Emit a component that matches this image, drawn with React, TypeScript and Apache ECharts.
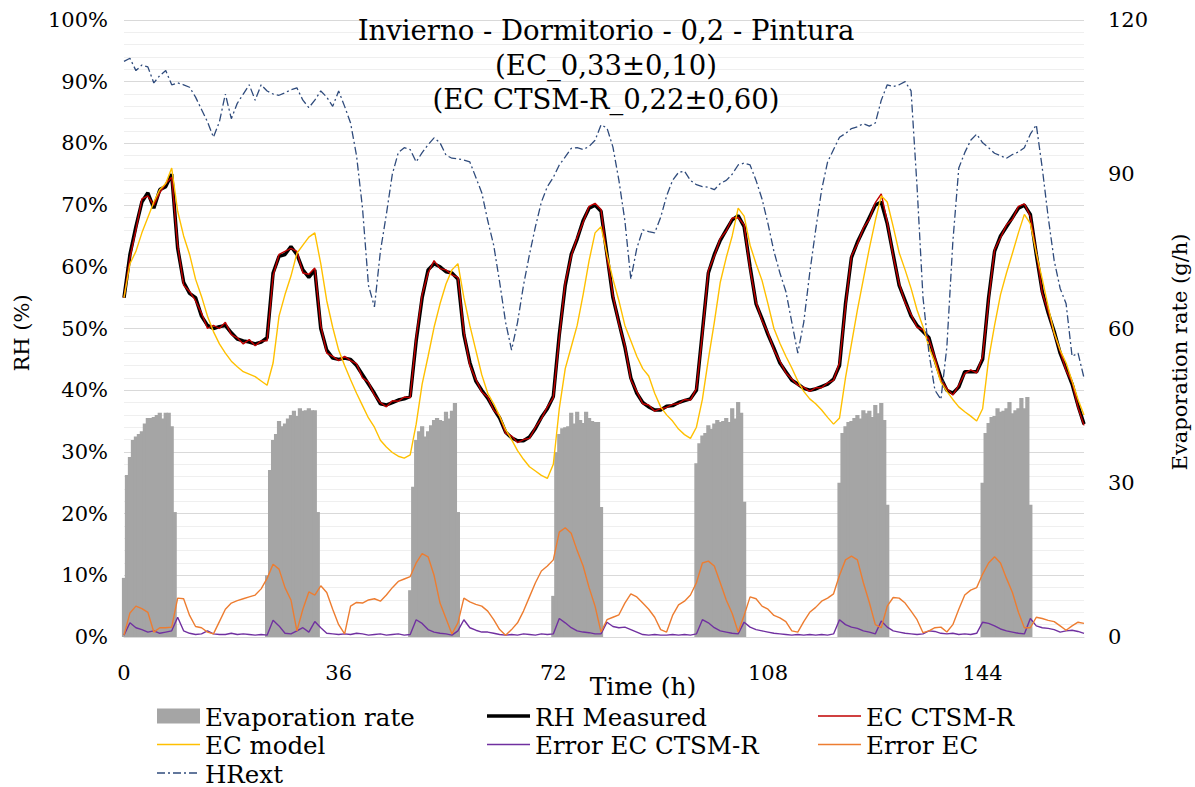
import React, { useEffect, useRef } from 'react';
import * as echarts from 'echarts';

// Hourly series, t = 0 .. 161 h
const rhMeasured = [
  55, 62, 66.5, 70.5, 72, 69.5, 72.5, 73, 75, 63,
  57.5, 55.7, 55, 52, 50.5, 50, 50.3, 50.5, 49.3, 48.3,
  48, 47.8, 47.5, 47.8, 48.5, 59, 61.7, 62, 63.3, 62,
  59.5, 58.3, 59.5, 50, 46.5, 45.2, 45, 45.2, 45, 44,
  42.5, 41, 39.5, 37.8, 37.6, 38, 38.4, 38.6, 39, 48,
  55, 59.5, 60.5, 60, 59.2, 59, 58, 49, 44.5, 41.5,
  40, 38.7, 37, 35.5, 33.2, 32.3, 31.8, 31.8, 32.4, 33.8,
  35.6, 37, 39, 49, 57, 62, 64.5, 67.5, 69.5, 70,
  69, 62, 55, 51, 47, 42, 39.5, 38, 37.3, 36.8,
  36.8, 37.4, 37.5, 38, 38.3, 38.6, 40, 49.5, 59, 62,
  64.3, 66, 67.6, 68.3, 66.5, 60, 54, 51.6, 49, 46.8,
  44.4, 43, 41.6, 41, 40.3, 40, 40.2, 40.6, 41, 41.8,
  44, 54, 61.5, 64, 66, 68, 70, 70.5, 67, 62,
  57, 54.5, 52, 50.5, 49.5, 48.5, 45, 42, 40, 39.5,
  40.5, 43, 43, 43, 45, 55, 62.5, 65, 66.5, 68,
  69.5, 70, 68.5, 62, 56, 52.5, 49.5, 46, 43.5, 41,
  37.5, 34.5,
];

const ecCtsmR = [
  55, 61.5, 66, 71, 71.5, 70, 72, 73.5, 74.5, 63.5,
  57, 56, 54.5, 52.5, 50, 50.5, 50, 51, 49, 48.5,
  47.5, 48.2, 47.2, 48, 48, 58.5, 62, 62.5, 63, 62.5,
  59, 58.8, 59.8, 50.5, 46, 45.5, 44.8, 45.5, 44.8, 44.3,
  42, 41.3, 39.2, 38, 37.3, 38.3, 38.2, 38.9, 38.8, 48.5,
  55.5, 59, 61, 59.7, 59.5, 58.7, 58.3, 49.5, 44, 41.8,
  39.7, 38.9, 36.8, 35.8, 33, 32.6, 31.5, 32, 32.2, 34,
  35.4, 37.3, 38.8, 48.5, 57.5, 61.7, 64.8, 67.2, 69.8, 70.3,
  69.3, 61.5, 55.4, 50.7, 47.3, 41.7, 39.8, 37.8, 37.6, 36.6,
  37, 37.2, 37.7, 37.8, 38.5, 38.4, 40.3, 49, 59.4, 61.7,
  64.6, 65.8, 67.9, 68, 66.8, 59.6, 54.3, 51.3, 49.3, 46.5,
  44.7, 42.8, 41.8, 40.8, 40.5, 39.8, 40.4, 40.4, 41.2, 41.6,
  44.5, 53.5, 61.8, 63.7, 66.3, 67.7, 70.4, 71.8, 67.3, 61.7,
  57.3, 54.2, 52.3, 50.2, 49.8, 48.2, 45.3, 41.7, 40.3, 39.2,
  40.8, 42.7, 43.3, 42.8, 45.5, 54.5, 62.8, 64.7, 66.8, 67.7,
  69.8, 70.2, 68.2, 62.4, 55.7, 52.8, 49.2, 46.3, 43.2, 41.3,
  37.2, 34.3,
];

const ecModel = [
  55, 60.5, 62.5, 65.5, 68, 70.5, 72.5, 73.5, 76, 69,
  65, 62, 58, 55.2, 52, 49.5, 47.5, 46, 44.7, 43.8,
  43, 42.6, 42.2, 41.5, 40.8, 44.4, 52, 55.5, 58.5, 62.2,
  63.5, 64.8, 65.5, 60.5, 54.5, 50.2, 46.5, 44, 41.7, 39.5,
  37.5, 35.5, 34, 31.9, 30.8, 29.9, 29.3, 29, 29.5, 34.5,
  41, 45.5, 50.2, 54, 57.2, 59.5, 60.5, 55, 50.5, 46.5,
  42.5, 39.5, 37.8, 35.8, 33.6, 32, 30.2, 28.8, 27.6, 26.9,
  26.2, 25.7, 28, 37, 43.5, 47, 50.5, 55.5, 61, 65.5,
  66.5, 62, 58, 54.5, 50.5, 48, 45.5, 43.5, 42.3, 39.5,
  37.3, 36, 35, 33.7, 32.8, 32.2, 34, 38.5, 45, 51,
  57.5, 61.5, 65, 69.5, 68.2, 63.5, 60.5, 57.8, 54, 50,
  47.6, 45.5, 43.6, 41.5, 39.8, 38.6, 37.8, 36.8, 35.6, 34.5,
  35.5, 42, 47.5, 53, 58, 63, 67.5, 71.5, 70.5, 66.5,
  62.3, 59.5, 56.5, 53, 50.3, 47, 44.5, 41.3, 39.8, 38.5,
  37.3, 36.5, 35.8, 35, 37, 45, 50.5, 55.5, 59, 62.2,
  65.5, 68.5, 67, 62.2, 58, 53.5, 49.3, 46.5, 44.4, 41.5,
  38.5, 36,
];

const errorEcCtsmR = [
  0.3, 2.3, 1.5, 1.2, 0.8, 1, 0.6, 0.8, 1, 3.2,
  1, 0.6, 0.4, 0.5, 1, 0.5, 0.4, 0.4, 0.6, 0.4,
  0.5, 0.4, 0.3, 0.4, 0.3, 2.7, 1.8, 0.6, 0.5, 1,
  1.5, 0.8, 2.5, 1.5, 0.6, 0.5, 0.4, 0.5, 0.4, 0.6,
  0.5, 0.3, 0.4, 0.5, 0.3, 0.4, 0.5, 0.3, 0.4, 2.8,
  2.2, 1.2, 0.8, 0.6, 0.5, 0.3, 1, 2.8, 1.5, 1.1,
  0.8, 0.8, 0.6, 0.4, 0.3, 0.4, 0.3, 0.5, 0.4, 0.3,
  0.5, 0.4, 0.5, 3, 2.3, 1.5, 1, 0.8, 0.7, 0.5,
  0.5, 2.4, 1.7, 1.5, 1.6, 1.2, 0.8, 0.4, 0.3, 0.4,
  0.3, 0.3, 0.4, 0.3, 0.4, 0.3, 0.5, 2.8, 2.3, 1.5,
  1, 0.8, 0.6, 0.5, 2.4, 1.6, 1.2, 1, 0.8, 0.6,
  0.5, 0.4, 0.3, 0.4, 0.3, 0.4, 0.3, 0.4, 0.3, 0.5,
  2.8, 2, 1.6, 1.4, 1, 0.8, 0.5, 2.6, 1.6, 1,
  0.8, 0.6, 0.5, 0.4, 0.5, 1, 0.9, 0.6, 0.5, 0.6,
  0.4, 0.5, 0.4, 0.6, 2.4, 2.2, 1.8, 1.3, 1, 0.8,
  0.6, 0.5, 3, 1.8, 1.5, 1.4, 1.2, 0.8, 1, 1.1,
  0.9, 0.6,
];

const errorEc = [
  0.3, 3.9, 5, 4.6, 4, 0.8, 1.5, 1.5, 1.6, 6.3,
  6.2, 3.5, 1.7, 1.5, 0.8, 0.5, 2.5, 4.5, 5.5, 5.9,
  6.2, 6.5, 6.8, 7.8, 9.5, 11.8, 11, 8, 6, 1,
  4.5, 7.3, 6.8, 8.3, 7.2, 4.5, 2, 0.5, 5, 5.6,
  5.5, 6, 6.2, 5.8, 6.8, 8, 9, 9.4, 9.8, 12,
  13.5, 13, 10, 5.5, 3, 0.5, 2.3, 6.3, 5.7, 5.3,
  5, 4.2, 2.8, 1.2, 0.3, 1.2, 2.3, 4.2, 6.5, 8.8,
  10.7, 11.5, 12.5, 17, 17.7, 16.8, 14, 11.5, 8, 5,
  0.8, 2.8, 3.2, 3.6, 5.5, 7, 6.5, 5.5, 4.5, 3.2,
  1.2, 0.8, 3.5, 5.2, 5.8, 6.8, 8.8, 12, 12.3, 11.5,
  8.8, 6, 3.8, 0.8, 3.5, 6.5, 6.2, 5, 4.5, 3.5,
  3.1, 2.5, 1, 0.8, 2.5, 4, 4.8, 5.8, 6.3, 7,
  10, 12.5, 13.1, 12.5, 8.8, 5.6, 2, 1.5, 5, 6.4,
  6.3, 5.5, 4.2, 2.8, 0.7, 1, 1.5, 1.6, 0.8, 2,
  4.5, 6.8, 7.6, 8, 10.2, 12, 13, 12, 9.5, 7.2,
  4, 1.5, 1.5, 3.2, 3, 2.7, 2.5, 1.8, 1.1, 1.8,
  2.4, 2.2,
];

const hrExt = [
  93.3, 93.8, 91.8, 92.7, 92.4, 89.8, 91, 91.8, 89.5, 89.8,
  89.5, 89.1, 87.5, 85.5, 83.5, 81, 83.5, 88, 84, 86.5,
  88, 89.5, 87, 89.5, 88.5, 88, 87.8, 88.2, 88.7, 89,
  87, 85.8, 87, 88.5, 87.5, 86, 88.5, 86, 83.3, 78,
  69.5, 57, 53.5, 62.5, 68.5, 75, 78.5, 79.3, 79, 77,
  78.5, 79.8, 80.9, 80.1, 78.1, 77.6, 77.5, 77.3, 77, 74.5,
  72, 67.5, 63.5, 57.5, 51, 46.5, 51, 57, 62, 66.5,
  70.5, 73, 74.5, 76.5, 77.8, 79.2, 79.3, 79, 79.5, 80.5,
  83, 82.5, 79.4, 74, 67.5, 58, 63, 66, 65.7, 65.5,
  68, 71.5, 74, 75.3, 75.5, 74, 73.3, 73, 72.9, 72.5,
  73.5, 74, 75, 76.5, 76.8, 76.5, 74, 71, 67, 62.5,
  59, 56, 51, 46, 51, 59, 66, 72.5, 77, 79,
  81, 81.6, 82.4, 82.7, 83.2, 82.8, 83.3, 87, 89.5, 89.2,
  89.5, 90, 88.5, 73, 55, 46, 40, 38.5, 47, 64,
  76, 78.5, 80.5, 81.5, 80.1, 79.3, 78.4, 78, 77.6, 78.2,
  78.6, 79.3, 81.5, 83, 76, 68, 61, 56.5, 54, 45.5,
  46, 42,
];

// Evaporation rate (g/h), half-hourly during each daily emission period
const evapStartHours = [0, 24, 48, 72, 96, 120, 144];
const evapDay1 = [11.5, 31.5, 35, 38.3, 39, 39.5, 40, 41.5, 42.6, 42.6, 42.8, 43.2, 43.6, 42.5, 43.6, 43.6, 41, 24.3];
const evapDay2 = [12, 32.5, 38.3, 39.5, 42, 41, 41.5, 42.5, 43.2, 44, 43, 44.5, 44, 44.1, 44.5, 44.1, 44.1, 24.3];
const evapDay3 = [9.1, 29.2, 38.3, 40, 41, 39, 40, 41.2, 42.2, 42.6, 42.2, 42, 43.8, 42.5, 44, 45.5, 24.3];
const evapDay4 = [8, 36, 39.5, 40.6, 40.8, 41, 43.6, 41.5, 43.8, 42.2, 41.6, 43.8, 42.6, 42, 41.8, 41.8, 25.3];
const evapDay5 = [33.8, 37.7, 39.2, 39.7, 41.2, 40.5, 41.5, 42.2, 41.8, 42, 42.6, 41.8, 44.5, 42.5, 45.7, 43.6, 26.3];
const evapDay6 = [30, 39.7, 41, 41.8, 42, 42.6, 43.2, 42.5, 44.1, 43.5, 44, 42.8, 45.1, 43.5, 45.5, 42.2, 25.7];
const evapDay7 = [30, 39.7, 41.6, 42.8, 43, 44.5, 43.8, 44, 44.5, 45.7, 43.5, 44.1, 44.5, 46.5, 44.5, 46.7, 25.7];
const evapDays = [evapDay1, evapDay2, evapDay3, evapDay4, evapDay5, evapDay6, evapDay7];
const evapStep = 0.5;

const xTicks = [0, 36, 72, 108, 144];
const titleLines = [
  'Invierno - Dormitorio - 0,2 - Pintura',
  '(EC_0,33±0,10)',
  '(EC CTSM-R_0,22±0,60)',
];

const FONT = 'DejaVu Serif';

const COLORS = {
  evap: '#a5a5a5',
  rh: '#000000',
  ctsm: '#c00000',
  model: '#ffc000',
  errCtsm: '#7030a0',
  errEc: '#ed7d31',
  hrExt: '#2f4b7c',
};
const HR_DASH = [8, 3, 2, 3];

const toPairs = (arr: number[]) => arr.map((v, i) => [i, v]);

// legend layout: [name, kind, color, line width, icon x, row y, dash]
const legendItems: Array<[string, string, string, number, number, number, number[] | null]> = [
  ['Evaporation rate', 'rect', COLORS.evap, 0, 157, 716, null],
  ['RH Measured', 'line', COLORS.rh, 3.5, 487, 716, null],
  ['EC CTSM-R', 'line', COLORS.ctsm, 1.4, 818, 716, null],
  ['EC model', 'line', COLORS.model, 1.4, 157, 744.5, null],
  ['Error EC CTSM-R', 'line', COLORS.errCtsm, 1.4, 487, 744.5, null],
  ['Error EC', 'line', COLORS.errEc, 1.4, 818, 744.5, null],
  ['HRext', 'line', COLORS.hrExt, 1.3, 157, 773, HR_DASH],
];

export default function App() {
  const ref = useRef<HTMLDivElement>(null);

  useEffect(() => {
    if (!ref.current) return;
    const chart = echarts.init(ref.current, undefined, { renderer: 'svg' });

    const evapData: number[][] = [];
    evapDays.forEach((day, d) => {
      day.forEach((v, i) => evapData.push([evapStartHours[d] + i * evapStep, v]));
    });

    const lineBase = { type: 'line', showSymbol: false, symbol: 'none', animation: false };

    const legendGraphics: any[] = [];
    legendItems.forEach(([name, kind, color, width, x, y, dash]) => {
      if (kind === 'rect') {
        legendGraphics.push({ type: 'rect', shape: { x, y: y - 7.5, width: 43, height: 15 }, style: { fill: color } });
      } else {
        legendGraphics.push({
          type: 'line',
          shape: { x1: x, y1: y, x2: x + 43, y2: y },
          style: { stroke: color, lineWidth: width, lineDash: dash || undefined },
        });
      }
      legendGraphics.push({
        type: 'text',
        x: x + 48,
        y: y + 1,
        style: { text: name, fontFamily: FONT, fontSize: 24.5, fill: '#000', textAlign: 'left', textVerticalAlign: 'middle' },
      });
    });

    chart.setOption({
      animation: false,
      grid: { left: 124, right: 111, top: 20, bottom: 150, containLabel: false },
      xAxis: {
        type: 'value',
        min: 0,
        max: 161,
        interval: 36,
        axisLine: { show: true, lineStyle: { color: '#d9d9d9' } },
        axisTick: { show: false },
        splitLine: { show: false },
        axisLabel: {
          margin: 25,
          fontFamily: FONT,
          fontSize: 21,
          color: '#000',
          showMaxLabel: false,
          formatter: (v: number) => (xTicks.includes(v) ? String(v) : ''),
        },
      },
      yAxis: [
        {
          type: 'value',
          min: 0,
          max: 100,
          interval: 10,
          axisLine: { show: false },
          axisTick: { show: false },
          splitLine: { show: true, lineStyle: { color: '#d9d9d9' } },
          minorTick: { show: false, splitNumber: 5 },
          minorSplitLine: { show: true, lineStyle: { color: '#efefef' } },
          axisLabel: { formatter: '{value}%', margin: 16, fontFamily: FONT, fontSize: 21, color: '#000' },
        },
        {
          type: 'value',
          min: 0,
          max: 120,
          interval: 30,
          position: 'right',
          axisLine: { show: false },
          axisTick: { show: false },
          splitLine: { show: false },
          axisLabel: { margin: 24, fontFamily: FONT, fontSize: 21, color: '#000' },
        },
      ],
      series: [
        {
          name: 'Evaporation rate',
          type: 'bar',
          yAxisIndex: 1,
          barWidth: 4.2,
          itemStyle: { color: COLORS.evap },
          data: evapData,
        },
        { ...lineBase, name: 'RH Measured', data: toPairs(rhMeasured), lineStyle: { color: COLORS.rh, width: 3.5 }, itemStyle: { color: COLORS.rh } },
        { ...lineBase, name: 'EC CTSM-R', data: toPairs(ecCtsmR), lineStyle: { color: COLORS.ctsm, width: 1.4 }, itemStyle: { color: COLORS.ctsm } },
        { ...lineBase, name: 'EC model', data: toPairs(ecModel), lineStyle: { color: COLORS.model, width: 1.4 }, itemStyle: { color: COLORS.model } },
        { ...lineBase, name: 'Error EC CTSM-R', data: toPairs(errorEcCtsmR), lineStyle: { color: COLORS.errCtsm, width: 1.4 }, itemStyle: { color: COLORS.errCtsm } },
        { ...lineBase, name: 'Error EC', data: toPairs(errorEc), lineStyle: { color: COLORS.errEc, width: 1.4 }, itemStyle: { color: COLORS.errEc } },
        { ...lineBase, name: 'HRext', data: toPairs(hrExt), lineStyle: { color: COLORS.hrExt, width: 1.3, type: HR_DASH }, itemStyle: { color: COLORS.hrExt } },
      ],
      graphic: [
        ...titleLines.map((t, i) => ({
          type: 'text',
          x: 606,
          y: 30 + i * 34.5,
          z: 100,
          style: { text: t, fontFamily: FONT, fontSize: 27.5, fill: '#000', textAlign: 'center', textVerticalAlign: 'middle' },
        })),
        {
          type: 'text', x: 22, y: 333, rotation: Math.PI / 2,
          style: { text: 'RH (%)', fontFamily: FONT, fontSize: 21, fill: '#000', textAlign: 'center', textVerticalAlign: 'middle' },
        },
        {
          type: 'text', x: 1180, y: 352, rotation: Math.PI / 2,
          style: { text: 'Evaporation rate (g/h)', fontFamily: FONT, fontSize: 21, fill: '#000', textAlign: 'center', textVerticalAlign: 'middle' },
        },
        {
          type: 'text', x: 643, y: 686,
          style: { text: 'Time (h)', fontFamily: FONT, fontSize: 25, fill: '#000', textAlign: 'center', textVerticalAlign: 'middle' },
        },
        ...legendGraphics,
      ],
    });

    return () => chart.dispose();
  }, []);

  return <div ref={ref} style={{ position: 'absolute', left: 0, top: 0, width: 1195, height: 787 }} />;
}
